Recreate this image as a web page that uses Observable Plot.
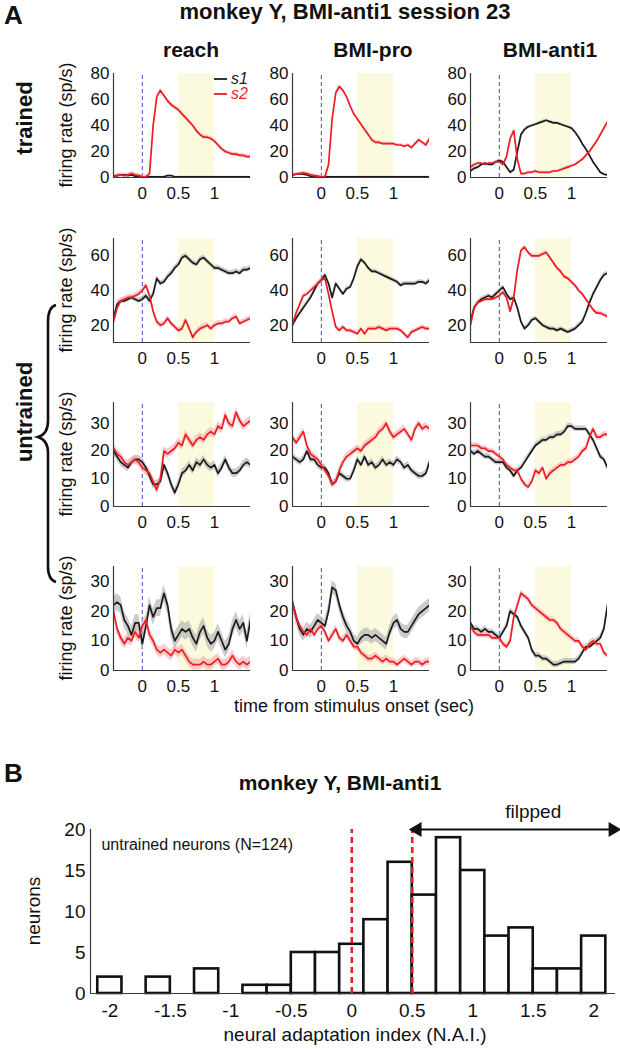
<!DOCTYPE html>
<html>
<head>
<meta charset="utf-8">
<script src="https://cdn.jsdelivr.net/npm/d3@7"></script>
<script src="https://cdn.jsdelivr.net/npm/@observablehq/plot@0.6"></script>
<style>
  html, body { margin: 0; padding: 0; background: #fff; }
  #root { position: relative; width: 620px; height: 1050px; background: #fff; overflow: hidden; }
  #root svg.plotpanel { position: absolute; overflow: visible; }
  #overlay { position: absolute; left: 0; top: 0; pointer-events: none; }
</style>
</head>
<body>
<div id="root"></div>
<script>
// ---------------- DATA ----------------
const T = [-0.4,-0.35,-0.3,-0.25,-0.2,-0.15,-0.1,-0.05,0,0.05,0.1,0.15,0.2,0.25,0.3,0.35,0.4,0.45,0.5,0.55,0.6,0.65,0.7,0.75,0.8,0.85,0.9,0.95,1,1.05,1.1,1.15,1.2,1.25,1.3,1.35,1.4,1.45,1.5];

const taskNames = ["reach", "BMI-pro", "BMI-anti1"];
const seriesNames = ["s1", "s2"];
const xTicks = [0, 0.5, 1];
const responseWindow = [0.5, 1.0];

const rowDomains = [[0, 80], [10, 70], [0, 37.5], [0, 35]];
const rowTicks = [[0, 20, 40, 60, 80], [20, 40, 60], [0, 10, 20, 30], [0, 10, 20, 30]];

// row 1 (trained neuron)
const reach1_s1 = [1,1.5,2,2,1.5,2,1,1,0.5, 0.5,0.5,0.5,0.5,0.5,0.5,1.5,1.5,0.5,0.5, 0.5,0.5,0.5,0.5,0.5,0.5,0.5,0.5,0.5,0.5, 0.5,0.5,0.5,0.5,0.5,0.5,0.5,0.5,0.5,0.5];
const reach1_s2 = [1,1.5,2,1.5,2,3,2,1.5,0.5, 0.5,3,40,62,67,63,59,56,54,52, 49,46,43,40,36,33,31,31,30,28, 25,22,20,19,18,18,17,17,16,16];
const pro1_s1 = [2,2.5,3,2.5,2,1,0.5,0.5,0.5, 0.5,0.5,0.5,0.5,0.5,0.5,0.5,0.5,0.5,0.5, 0.5,0.5,0.5,0.5,0.5,0.5,0.5,0.5,0.5,0.5, 0.5,0.5,0.5,0.5,0.5,0.5,0.5,0.5,0.5,0.5];
const pro1_s2 = [2,2.5,3,3.5,3,2,1.5,1,0.5, 0.5,10,45,65,70,67,62,55,49,45, 41,37,33,29,27,27,26,26,26,26, 25,25,24,25,23,26,29,27,25,30];
const anti1_1_s1 = [5,7,8,10,11,10,10,12,13, 12,8,4,6,20,33,37,39,40,41, 42,43,44,43,42,42,41,40,39,38, 35,31,26,22,17,12,8,4,2.5,2];
const anti1_1_s2 = [8,10,11,11,10,11,11,12,12, 10,16,30,36,14,3,3,4,4,5, 4,4,4,4,5,5,6,7,8,9, 10,12,14,17,20,24,28,33,38,43];

// row 2 (untrained)
const reach2_s1 = [24,32,34,34,35,36,35,34,35, 37,34,38,47,44,45,48,50,53,55, 59,60,58,56,55,58,59,57,55,53, 53,52,51,50,50,51,50,52,52,53];
const reach2_s2 = [22,30,34,35,36,36,37,38,40, 43,37,28,22,20,21,24,21,19,17, 18,23,18,13,16,18,19,20,18,20, 21,21,22,22,24,25,21,22,23,24];
const pro2_s1 = [20,24,27,30,33,36,40,44,46, 49,44,36,44,41,38,41,42,47,54, 58,56,53,51,51,50,49,48,47,46, 45,43,44,44,44,44,45,45,44,46];
const pro2_s2 = [20,27,32,37,38,40,42,44,46, 47,38,28,19,17,19,17,17,16,15, 18,15,18,18,18,19,18,17,18,18, 18,17,15,13,16,17,18,19,18,18];
const anti2_s1 = [22,30,33,35,36,37,36,38,40, 42,38,35,36,30,22,18,20,23,24, 22,20,19,18,18,17,18,17,16,17, 18,20,22,27,33,38,42,46,49,50];
const anti2_s2 = [20,30,33,34,35,35,35,36,37, 39,36,28,36,52,63,65,62,60,60, 60,61,62,59,56,53,51,48,47,45, 43,40,38,35,32,29,27,27,26,25];

// row 3 (untrained)
const reach3_s1 = [20,18,16,15,14,16,17,17,16, 14,11,8,8,9,15,12,8,5,8, 12,13,15,13,16,15,17,15,14,15, 12,14,17,14,12,12,13,15,16,15];
const reach3_s2 = [21,19,18,16,15,16,17,16,14, 13,12,9,6,10,20,19,20,21,23, 22,26,24,22,24,25,24,26,27,26, 29,28,33,30,29,34,31,29,30,31];
const pro3_s1 = [18,17,16,17,20,17,17,15,14, 14,12,8,9,12,11,10,10,13,17, 15,18,15,16,14,15,17,15,16,15, 17,16,14,15,13,12,11,11,12,16];
const pro3_s2 = [25,23,25,27,22,19,18,17,15, 13,11,8,9,13,16,18,19,20,21, 20,22,23,24,25,27,28,30,27,25, 26,27,28,26,24,28,30,28,29,28];
const anti3_s1 = [20,19,20,19,18,18,17,16,16, 16,14,13,11,13,14,16,18,20,22, 23,24,24,25,25,26,26,27,29,29, 28,28,28,28,26,24,21,18,17,14];
const anti3_s2 = [22,22,22,21,21,20,20,19,18, 17,15,14,13,13,10,8,7,9,13, 12,14,10,12,13,14,15,15,16,16, 17,18,20,21,25,28,25,25,26,26];

// row 4 (untrained)
const reach4_s1 = [22,23,22,17,15,12,16,16,9, 15,22,18,21,21,26,22,14,10,12, 14,13,14,11,9,13,15,11,9,10, 13,10,7,9,14,17,14,16,10,17];
const reach4_s2 = [20,14,11,9,11,10,13,11,15, 17,12,10,7,6,7,6,5,7,6, 7,5,3,2,2,2,3,2,2,3, 4,2,2,3,5,3,2,3,2,3];
const pro4_s1 = [23,18,14,12,14,13,15,17,16, 15,20,28,27,22,18,15,13,10,9, 11,12,12,11,12,11,10,9,13,16, 17,14,13,13,15,17,19,20,21,22];
const pro4_s2 = [23,18,15,13,12,14,12,14,15, 13,10,12,14,11,10,12,10,8,8, 6,5,4,4,5,4,3,4,3,3, 2,3,4,3,2,3,3,2,3,3];
const anti4_s1 = [16,14,14,13,14,13,13,12,11, 13,15,20,19,18,15,13,11,7,5, 5,4,4,3,2,2,2.5,3,3,3, 3,4,6,8,8,9,10,11,14,22];
const anti4_s2 = [15,13,12,12,12,12,11,11,11, 9,8,10,18,22,26,25,24,22,21, 20,19,18,17,17,16,14,13,12,11, 10,10,8,7,9,10,9,9,6,5];

// standard error (half-width of the shaded band), per panel, row-major
const semS1 = [0.4, 0.4, 1.0,  1.5, 1.2, 1.2,  1.5, 1.2, 1.0,  2.8, 2.2, 1.0];
const semS2 = [1.5, 1.2, 1.0,  1.5, 1.2, 1.2,  1.6, 1.3, 1.0,  1.8, 1.2, 1.0];

// histogram (panel B)
const naiBinCenters = [-2,-1.8,-1.6,-1.4,-1.2,-1,-0.8,-0.6,-0.4,-0.2,0,0.2,0.4,0.6,0.8,1,1.2,1.4,1.6,1.8,2];
const naiCounts     = [ 2,   0,   2,   0,   3, 0,   1,   1,   5,   5,6,  9, 16, 12, 19,15,  7,  8,  3,  3,7];
const naiBinWidth = 0.2;
const naiTicks = [-2,-1.5,-1,-0.5,0,0.5,1,1.5,2];
const countTicks = [0,5,10,15,20];
const naiThresholds = [0, 0.5];
const flippedRange = [0.5, 2.2];

const series = [
  [[reach1_s1, reach1_s2], [pro1_s1, pro1_s2], [anti1_1_s1, anti1_1_s2]],
  [[reach2_s1, reach2_s2], [pro2_s1, pro2_s2], [anti2_s1, anti2_s2]],
  [[reach3_s1, reach3_s2], [pro3_s1, pro3_s2], [anti3_s1, anti3_s2]],
  [[reach4_s1, reach4_s2], [pro4_s1, pro4_s2], [anti4_s1, anti4_s2]]
];

// ---------------- STYLE / LAYOUT ----------------
const FONT = '"Liberation Sans", Arial, Helvetica, sans-serif';
const BLACK = "#1b1b1b", RED = "#ee1c24", GRAY = "#b9b9b9", PINK = "#f7a8a6";
const YELLOW = "#fbfadf", BLUE = "#4646d8", AXIS = "#3a3a3a";
const colLeft = [113, 292, 470];
const rowTop = [73, 238, 402, 566];
const plotW = 137, plotH = 104;

const root = document.getElementById("root");

function panel(r, c) {
  const [a, b] = series[r][c];
  const sem1 = semS1[r * 3 + c], sem2 = semS2[r * 3 + c];
  const data = T.map((t, i) => ({t, s1: a[i], s2: b[i]}));
  const [y0, y1] = rowDomains[r];
  const ml = 45, mr = 45, mt = 6, mb = 36;
  const svg = Plot.plot({
    width: plotW + ml + mr, height: plotH + mt + mb,
    marginLeft: ml, marginRight: mr, marginTop: mt, marginBottom: mb,
    x: {domain: [T[0], T[T.length - 1]]},
    y: {domain: [y0, y1]},
    style: {fontFamily: FONT, fontSize: "17px", color: "#111", background: "transparent", overflow: "visible"},
    marks: [
      Plot.rect([responseWindow], {x1: d => d[0], x2: d => d[1], y1: y0, y2: y1, fill: YELLOW}),
      Plot.ruleX([0], {y1: y0, y2: y1, stroke: BLUE, strokeWidth: 1, strokeDasharray: "4,3"}),
      Plot.areaY(data, {x: "t", y1: d => d.s1 - sem1, y2: d => d.s1 + sem1, fill: GRAY, fillOpacity: 0.75, clip: true}),
      Plot.areaY(data, {x: "t", y1: d => d.s2 - sem2, y2: d => d.s2 + sem2, fill: PINK, fillOpacity: 0.6, clip: true}),
      Plot.line(data, {x: "t", y: "s1", stroke: BLACK, strokeWidth: 1.7, clip: true}),
      Plot.line(data, {x: "t", y: "s2", stroke: RED, strokeWidth: 1.7, clip: true}),
      Plot.ruleY([y0], {stroke: AXIS, strokeWidth: 1.2}),
      Plot.ruleX([T[0]], {y1: y0, y2: y1, stroke: AXIS, strokeWidth: 1.2}),
      Plot.axisX({ticks: xTicks, tickFormat: d => String(d), tickSize: 0, tickPadding: 9, label: null, fontSize: 17}),
      Plot.axisY({ticks: rowTicks[r], tickFormat: d => String(d), tickSize: 0, tickPadding: 4, label: null, fontSize: 17})
    ]
  });
  svg.classList.add("plotpanel");
  svg.style.left = (colLeft[c] - ml) + "px";
  svg.style.top = (rowTop[r] - mt) + "px";
  root.appendChild(svg);
}

for (let r = 0; r < 4; r++) for (let c = 0; c < 3; c++) panel(r, c);

// ---------------- HISTOGRAM ----------------
(function histogram() {
  const bins = naiBinCenters.map((x, i) => ({x, n: naiCounts[i]}));
  const ml = 90, mr = 5, mt = 40, mb = 20;
  const hTop = 829, hH = 164;
  const svg = Plot.plot({
    width: 620, height: hH + mt + mb,
    marginLeft: ml, marginRight: mr, marginTop: mt, marginBottom: mb,
    x: {domain: [-2.16, 2.18]},
    y: {domain: [0, 20]},
    style: {fontFamily: FONT, fontSize: "19px", color: "#111", background: "transparent", overflow: "visible"},
    marks: [
      Plot.rectY(bins.filter(d => d.n > 0), {x1: d => d.x - naiBinWidth / 2, x2: d => d.x + naiBinWidth / 2, y: "n", fill: "white", stroke: "#111", strokeWidth: 2.6}),
      Plot.ruleX(naiThresholds, {y1: 0, y2: 20, stroke: "#ee1c24", strokeWidth: 2.6, strokeDasharray: "6,4"}),
      Plot.ruleY([0], {stroke: AXIS, strokeWidth: 1.2}),
      Plot.ruleX([-2.16], {y1: 0, y2: 20, stroke: AXIS, strokeWidth: 1.2}),
      Plot.link([flippedRange], {x1: d => d[0], x2: d => d[1], y1: 20, y2: 20, stroke: "#111", strokeWidth: 2}),
      Plot.dot([flippedRange[0]], {x: d => d, y: 20, symbol: "triangle", r: 5.5, rotate: -90, fill: "#111", dx: 5}),
      Plot.dot([flippedRange[1]], {x: d => d, y: 20, symbol: "triangle", r: 5.5, rotate: 90, fill: "#111", dx: -5}),
      Plot.text(["filpped"], {x: 1.5, y: 20, dy: -18, text: d => d, fontSize: 19, fill: "#111"}),
      Plot.text(["untrained neurons (N=124)"], {x: -2.07, y: 18.1, text: d => d, textAnchor: "start", fontSize: 16, fill: "#111"}),
      Plot.axisX({ticks: naiTicks, tickFormat: d => String(d), tickSize: 0, tickPadding: 10, label: null, fontSize: 19}),
      Plot.axisY({ticks: countTicks, tickFormat: d => String(d), tickSize: 0, tickPadding: 5, label: null, fontSize: 19})
    ]
  });
  svg.classList.add("plotpanel");
  svg.style.left = "0px";
  svg.style.top = (hTop - mt) + "px";
  root.appendChild(svg);
})();

// ---------------- TEXT OVERLAY ----------------
const ov = d3.select(root).append("svg").attr("id", "overlay")
  .attr("width", 620).attr("height", 1050)
  .style("font-family", FONT).style("fill", "#111");

function txt(s, x, y, o = {}) {
  const t = ov.append("text").text(s)
    .attr("font-size", o.size || 18)
    .attr("font-weight", o.bold ? "bold" : "normal")
    .attr("font-style", o.italic ? "italic" : "normal")
    .attr("text-anchor", o.anchor || "middle")
    .attr("fill", o.fill || "#111");
  if (o.rotate) t.attr("transform", `translate(${x},${y}) rotate(${o.rotate})`);
  else t.attr("x", x).attr("y", y);
  return t;
}

txt("A", 4, 24, {size: 26, bold: true, anchor: "start"});
txt("monkey Y, BMI-anti1 session 23", 345, 19, {size: 22, bold: true});
const colTitleX = [191, 373, 550];
taskNames.forEach((n, i) => txt(n, colTitleX[i], 57, {size: 21, bold: true}));

// legend
ov.append("line").attr("x1", 214).attr("x2", 227).attr("y1", 79).attr("y2", 79).attr("stroke", BLACK).attr("stroke-width", 1.8);
ov.append("line").attr("x1", 214).attr("x2", 227).attr("y1", 94).attr("y2", 94).attr("stroke", RED).attr("stroke-width", 1.8);
txt(seriesNames[0], 231, 84, {size: 16, italic: true, anchor: "start", fill: BLACK});
txt(seriesNames[1], 231, 99, {size: 16, italic: true, anchor: "start", fill: RED});

// y labels
rowTop.forEach(t => txt("firing rate (sp/s)", 72, t + plotH / 2, {size: 18, rotate: -90}));
txt("trained", 32, 118, {size: 22, bold: true, rotate: -90});
txt("untrained", 32, 412, {size: 22, bold: true, rotate: -90});
ov.append("path")
  .attr("d", "M56,305 Q48,307 48,322 L48,421 Q48,434 38,437 Q48,440 48,453 L48,566 Q48,580 56,582")
  .attr("fill", "none").attr("stroke", "#111").attr("stroke-width", 2.6);

txt("time from stimulus onset (sec)", 354, 712, {size: 18});

// panel B texts
txt("B", 4, 782, {size: 26, bold: true, anchor: "start"});
txt("monkey Y, BMI-anti1", 340, 790, {size: 21, bold: true});
txt("neurons", 40, 911, {size: 19, rotate: -90});
txt("neural adaptation index (N.A.I.)", 355, 1041, {size: 19});
</script>
</body>
</html>
